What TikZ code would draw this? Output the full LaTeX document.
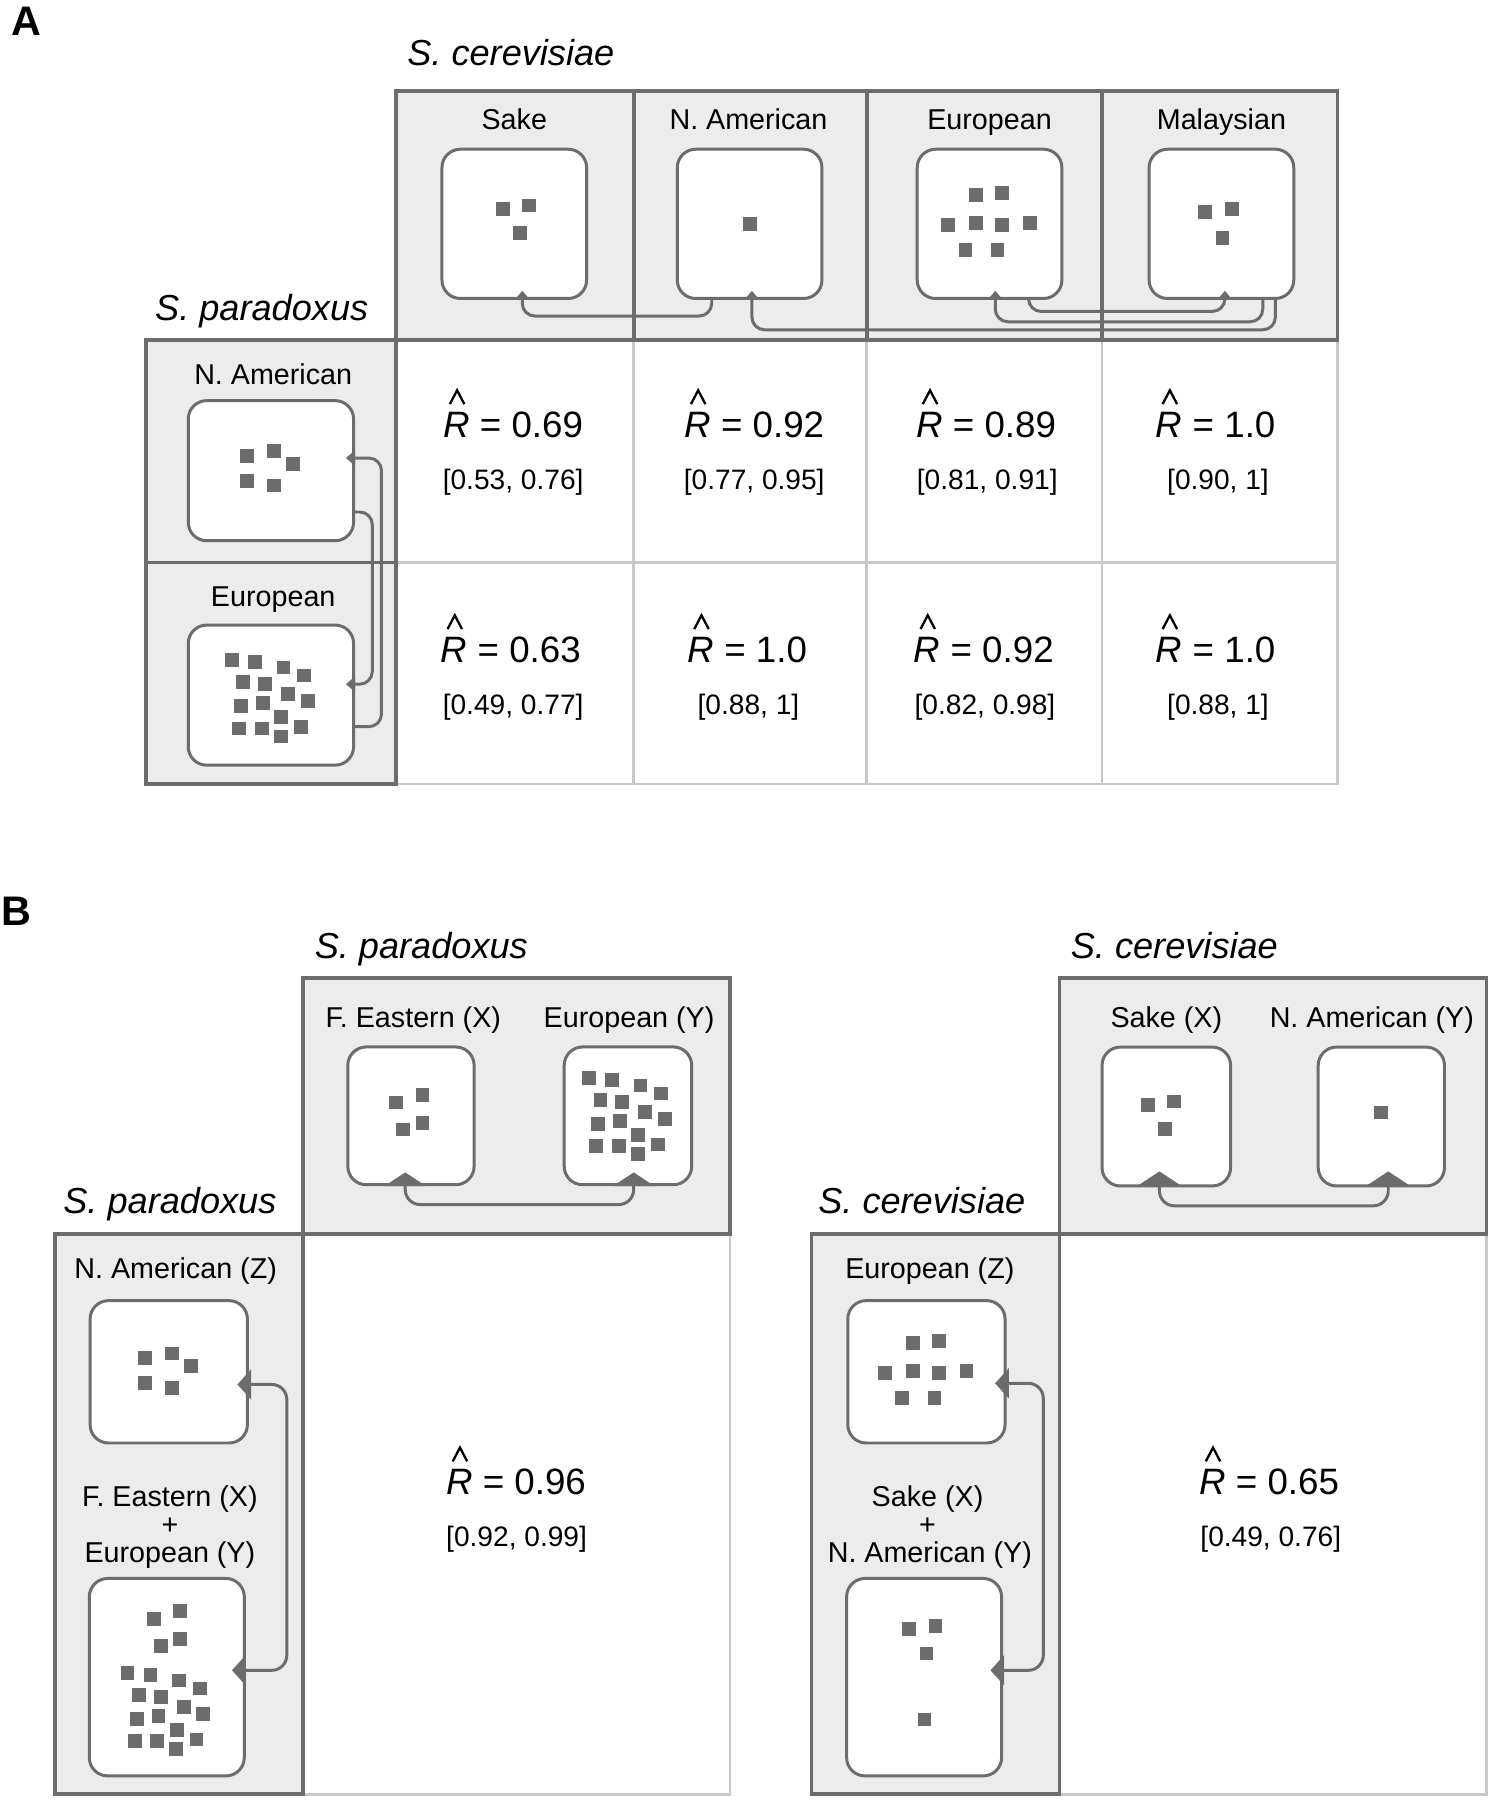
\documentclass[tikz,border=0pt]{standalone}
\usepackage{fontspec}
\setmainfont{Liberation Sans}
\usetikzlibrary{arrows.meta}
\definecolor{dgray}{RGB}{108,108,108}
\definecolor{hgray}{RGB}{236,236,236}
\definecolor{lgray}{RGB}{200,200,200}
% squares in each population box, offsets from the box centre
\newcommand{\sakeDots}{-10/-13, 13/-16, 5/8}
\newcommand{\eurDots}{-12/-25, 11/-27, -36/1, -12/-1, 11/1, 35/-1, -21/23, 7/23}
\newcommand{\malDots}{-14/-10, 9/-13, 1/12}
\newcommand{\namRowDots}{-21/-13, 3/-17, 19.5/-6, -21/9, 3/13}
\newcommand{\eurRowDots}{-34/-30.5, -14/-29, 11/-24, 29/-17, -24/-11.5, -5/-9.5, 15/-1, 32/5, -26/9.5, -7/7, 9/19, -27.5/29, -8/29, 26/27.5, 8.5/36}
\newcommand{\fexDots}{-13/-11.6, 10/-18, -7/12, 10/6}

\begin{document}
\begin{tikzpicture}[x=1pt, y=-1pt,
    hdrfill/.style={fill=hgray},
    hdrline/.style={draw=dgray, line width=3.2pt},
    cellline/.style={draw=lgray, line width=2.4pt},
    popbox/.style={draw=dgray, fill=white, line width=2.6pt, rounded corners=16pt, inner sep=0pt},
    sq/.style={fill=dgray},
    lbl/.style={font=\fontsize{25}{30}\selectfont, anchor=base, inner sep=0pt},
    species/.style={font=\fontsize{31.5}{38}\selectfont\itshape, anchor=base, inner sep=0pt},
    est/.style={font=\fontsize{32}{38}\selectfont, anchor=base, inner sep=0pt},
    caret/.style={draw=black, line width=2pt},
    ci/.style={font=\fontsize{24.5}{30}\selectfont, anchor=base, inner sep=0pt},
    panellbl/.style={font=\fontsize{36}{40}\selectfont\bfseries, anchor=base, inner sep=0pt},
    flowA/.style={draw=dgray, line width=2.6pt, rounded corners=11pt, -{Triangle[width=13pt,length=8pt]}},
    flowB/.style={draw=dgray, line width=2.6pt, rounded corners=13pt, {Triangle[width=36pt,length=12pt]}-{Triangle[width=36pt,length=12pt]}},
    flowC/.style={draw=dgray, line width=2.6pt, rounded corners=13pt, {Triangle[width=26pt,length=12pt]}-{Triangle[width=26pt,length=12pt]}}
  ]
  \useasboundingbox (0,0) rectangle (1299,1568);

  % ---------------- Panel A ----------------
  \fill[hdrfill] (345,79) rectangle (1165,296);
  \fill[hdrfill] (127,296) rectangle (345,683);
  \draw[cellline] (345,683) -- (1165,683) -- (1165,296);
  \foreach \x in {552,755,960} \draw[cellline] (\x,296) -- (\x,683);
  \draw[cellline] (345,490) -- (1165,490);
  \draw[hdrline] (345,79) rectangle (1165,296);
  \foreach \x in {552,755,960} \draw[hdrline] (\x,79) -- (\x,296);
  \draw[hdrline] (127,296) rectangle (345,683);
  \draw[hdrline] (127,490) -- (345,490);

  \node[panellbl] (tA) at (23,31) {A};
  \node[species] (tCerA) at (445,57) {S. cerevisiae};
  \node[species] (tParA) at (228,279) {S. paradoxus};

  % column populations
  \node[lbl] (lSakeA) at (448,113) {Sake};
  \node[lbl] (lNamA) at (652,113) {N. American};
  \node[lbl] (lEurA) at (862,113) {European};
  \node[lbl] (lMalA) at (1064,113) {Malaysian};
  \node[popbox, minimum width=126pt, minimum height=130pt] (sakeA) at (448,195) {};
  \node[popbox, minimum width=126pt, minimum height=130pt] (namA) at (653,195) {};
  \node[popbox, minimum width=126pt, minimum height=130pt] (eurA) at (862,195) {};
  \node[popbox, minimum width=126pt, minimum height=130pt] (malA) at (1064,195) {};
  \foreach \dx/\dy in \sakeDots \fill[sq] ([shift={(\dx,\dy)}]sakeA.center) +(-6,-6) rectangle +(6,6);
  \fill[sq] (namA.center) +(-6,-6) rectangle +(6,6);
  \foreach \dx/\dy in \eurDots \fill[sq] ([shift={(\dx,\dy)}]eurA.center) +(-6,-6) rectangle +(6,6);
  \foreach \dx/\dy in \malDots \fill[sq] ([shift={(\dx,\dy)}]malA.center) +(-6,-6) rectangle +(6,6);

  % row populations
  \node[lbl] (lNamRow) at (238,335) {N. American};
  \node[lbl] (lEurRow) at (238,528) {European};
  \node[popbox, minimum width=144pt, minimum height=122pt] (namRow) at (236,410) {};
  \node[popbox, minimum width=144pt, minimum height=122pt] (eurRow) at (236,605.5) {};
  \foreach \dx/\dy in \namRowDots \fill[sq] ([shift={(\dx,\dy)}]namRow.center) +(-6,-6) rectangle +(6,6);
  \foreach \dx/\dy in \eurRowDots \fill[sq] ([shift={(\dx,\dy)}]eurRow.center) +(-6,-6) rectangle +(6,6);

  % gene flow
  \draw[flowA] ([xshift=-33pt]namA.south) -- ++(0,14) -| ([xshift=7pt,yshift=8pt]sakeA.south);
  \draw[flowA] ([xshift=34pt]eurA.south) -- ++(0,10) -| ([xshift=3pt,yshift=8pt]malA.south);
  \draw[flowA] ([xshift=36pt]malA.south) -- ++(0,19) -| ([xshift=5pt,yshift=8pt]eurA.south);
  \draw[flowA] ([xshift=47pt]malA.south) -- ++(0,26) -| ([xshift=2pt,yshift=8pt]namA.south);
  \draw[flowA] ([yshift=-27.5pt]eurRow.east) -- ++(23,0) |- ([xshift=-8pt,yshift=11pt]namRow.east);
  \draw[flowA] ([yshift=-36pt]namRow.east) -- ++(15,0) |- ([xshift=-8pt,yshift=9.5pt]eurRow.east);

  % estimates
  \node[est] (e11) at (447,381) {\textit{R} = 0.69};
  \node[ci] (c11) at (447,426) {[0.53, 0.76]};
  \node[est] (e12) at (657,381) {\textit{R} = 0.92};
  \node[ci] (c12) at (657,426) {[0.77, 0.95]};
  \node[est] (e13) at (859,381) {\textit{R} = 0.89};
  \node[ci] (c13) at (860,426) {[0.81, 0.91]};
  \node[est] (e14) at (1059,381) {\textit{R} = 1.0};
  \node[ci] (c14) at (1061,426) {[0.90, 1]};
  \node[est] (e21) at (445,577) {\textit{R} = 0.63};
  \node[ci] (c21) at (447,622) {[0.49, 0.77]};
  \node[est] (e22) at (651,577) {\textit{R} = 1.0};
  \node[ci] (c22) at (652,622) {[0.88, 1]};
  \node[est] (e23) at (857,577) {\textit{R} = 0.92};
  \node[ci] (c23) at (858,622) {[0.82, 0.98]};
  \node[est] (e24) at (1059,577) {\textit{R} = 1.0};
  \node[ci] (c24) at (1061,622) {[0.88, 1]};

  % ---------------- Panel B ----------------
  \node[panellbl] (tB) at (14,806) {B};

  % S. paradoxus
  \fill[hdrfill] (264,852) rectangle (636,1075);
  \fill[hdrfill] (48,1075) rectangle (264,1563);
  \draw[cellline] (264,1563) -- (636,1563) -- (636,1075);
  \draw[hdrline] (264,852) rectangle (636,1075);
  \draw[hdrline] (48,1075) rectangle (264,1563);
  \node[species] (tParB) at (367,835) {S. paradoxus};
  \node[species] (tParB2) at (148,1057) {S. paradoxus};
  \node[lbl] (lFexB) at (360,895) {F. Eastern (X)};
  \node[lbl] (lEurB) at (548,895) {European (Y)};
  \node[popbox, minimum width=110pt, minimum height=120pt] (fexB) at (358,972) {};
  \node[popbox, minimum width=111pt, minimum height=120pt] (eurB) at (547,972) {};
  \foreach \dx/\dy in \fexDots \fill[sq] ([shift={(\dx,\dy)}]fexB.center) +(-6,-6) rectangle +(6,6);
  \foreach \dx/\dy in \eurRowDots \fill[sq] ([shift={(\dx,\dy-2.5)}]eurB.center) +(-6,-6) rectangle +(6,6);
  \node[lbl] (lNamZ) at (153,1114) {N. American (Z)};
  \node[popbox, minimum width=137pt, minimum height=124pt] (namZ) at (147,1195) {};
  \foreach \dx/\dy in \namRowDots \fill[sq] ([shift={(\dx,\dy+1)}]namZ.center) +(-6,-6) rectangle +(6,6);
  \node[lbl] (lFexMix) at (148,1312) {F. Eastern (X)};
  \node[lbl] (lPlusL) at (148,1337) {+};
  \node[lbl] (lEurMix) at (148,1361) {European (Y)};
  \node[popbox, minimum width=135pt, minimum height=172pt] (fexeur) at (145.3,1461) {};
  \foreach \dx/\dy in \fexDots \fill[sq] ([shift={(\dx+1.7,\dy-39.4)}]fexeur.center) +(-6,-6) rectangle +(6,6);
  \foreach \dx/\dy in \eurRowDots \fill[sq] ([shift={(\dx-0.2,\dy+26.8)}]fexeur.center) +(-6,-6) rectangle +(6,6);
  \draw[flowB] ([xshift=-5pt,yshift=12pt]fexB.south) -- ++(0,28) -| ([xshift=5pt,yshift=12pt]eurB.south);
  \draw[flowC] ([xshift=-10pt,yshift=-11pt]namZ.east) -- ++(43,0) |- ([xshift=-12pt,yshift=6pt]fexeur.east);
  \node[est] (eL) at (449.5,1302) {\textit{R} = 0.96};
  \node[ci] (cL) at (450,1347) {[0.92, 0.99]};

  % S. cerevisiae
  \fill[hdrfill] (923,852) rectangle (1295,1075);
  \fill[hdrfill] (707,1075) rectangle (923,1563);
  \draw[cellline] (923,1563) -- (1295,1563) -- (1295,1075);
  \draw[hdrline] (923,852) rectangle (1295,1075);
  \draw[hdrline] (707,1075) rectangle (923,1563);
  \node[species] (tCerB) at (1023,835) {S. cerevisiae};
  \node[species] (tCerB2) at (803,1057) {S. cerevisiae};
  \node[lbl] (lSakeB) at (1016,895) {Sake (X)};
  \node[lbl] (lNamB) at (1195,895) {N. American (Y)};
  \node[popbox, minimum width=112pt, minimum height=121pt] (sakeB) at (1016,972.6) {};
  \node[popbox, minimum width=110pt, minimum height=121pt] (namB) at (1203.3,972.6) {};
  \foreach \dx/\dy in \sakeDots \fill[sq] ([shift={(\dx-6,\dy+3)}]sakeB.center) +(-6,-6) rectangle +(6,6);
  \fill[sq] ([shift={(0,-3.5)}]namB.center) +(-6,-6) rectangle +(6,6);
  \node[lbl] (lEurZ) at (810,1114) {European (Z)};
  \node[popbox, minimum width=137pt, minimum height=124pt] (eurZ) at (807,1195) {};
  \foreach \dx/\dy in \eurDots \fill[sq] ([shift={(\dx,\dy)}]eurZ.center) +(-6,-6) rectangle +(6,6);
  \node[lbl] (lSakeMix) at (808,1312) {Sake (X)};
  \node[lbl] (lPlusR) at (808,1337) {+};
  \node[lbl] (lNamMix) at (810,1361) {N. American (Y)};
  \node[popbox, minimum width=135pt, minimum height=172pt] (sakenam) at (805,1461) {};
  \foreach \dx/\dy in \sakeDots \fill[sq] ([shift={(\dx-3,\dy-28.7)}]sakenam.center) +(-6,-6) rectangle +(6,6);
  \fill[sq] ([shift={(0.3,36.8)}]sakenam.center) +(-6,-6) rectangle +(6,6);
  \draw[flowB] ([xshift=-6pt,yshift=14pt]sakeB.south) -- ++(0,30) -| ([xshift=6pt,yshift=14pt]namB.south);
  \draw[flowC] ([xshift=-10pt,yshift=-10pt]eurZ.east) -- ++(42,0) |- ([xshift=-11pt,yshift=6pt]sakenam.east);
  \node[est] (eR) at (1105.5,1302) {\textit{R} = 0.65};
  \node[ci] (cR) at (1107,1347) {[0.49, 0.76]};

  % hats over the estimates
  \foreach \n in {e11,e12,e13,e14,e21,e22,e23,e24,eL,eR}
    \draw[caret] ([shift={(6,-29)}]\n.base west) -- ++(6.3,-12) -- ++(6.3,12);
\end{tikzpicture}
\end{document}
